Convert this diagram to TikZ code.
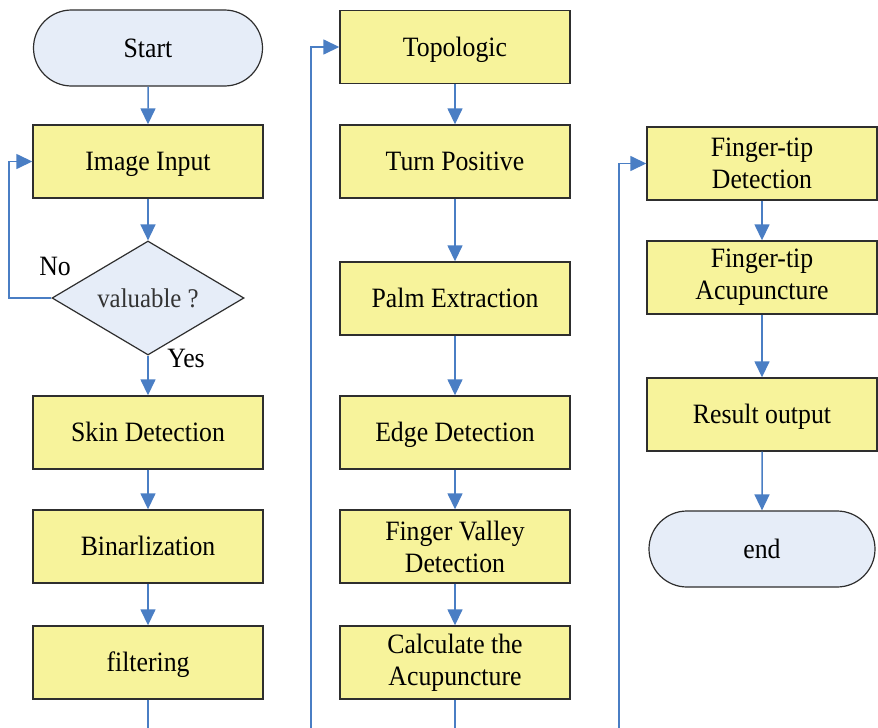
\documentclass[tikz,border=0pt]{standalone}
\usepackage{fontspec}
\setmainfont{Liberation Serif}[FakeStretch=0.92]
\usetikzlibrary{shapes.misc,shapes.geometric,arrows.meta}
\definecolor{boxfill}{HTML}{F7F39B}
\definecolor{termfill}{HTML}{E6EDF8}
\definecolor{linkblue}{HTML}{4A7EC4}
\definecolor{edgegray}{HTML}{2E2E2E}
\tikzset{
  procbox/.style={draw=edgegray, line width=1.4pt, fill=boxfill, minimum width=230pt, minimum height=73pt, inner sep=0pt, align=center, font=\fontsize{28}{32}\selectfont, text height=18.5pt, text depth=0pt},
  twoline/.style={text height={}, text depth={}},
  termbox/.style={draw=edgegray, line width=1.2pt, fill=termfill, rounded rectangle, minimum width=229pt, minimum height=76pt, inner sep=0pt, font=\fontsize{28}{32}\selectfont, text height=18.5pt, text depth=0pt},
  decbox/.style={draw=edgegray, line width=1.2pt, fill=termfill, diamond, aspect=1.68, minimum width=192pt, minimum height=114pt, inner sep=0pt, font=\fontsize{27}{30}\selectfont, text=black!80, text height=18pt, text depth=0pt},
  arr/.style={draw=linkblue, line width=1.5pt, -{Triangle[length=16pt,width=15pt]}},
  lnk/.style={draw=linkblue, line width=1.5pt},
  lbl/.style={font=\fontsize{28}{30}\selectfont, inner sep=0pt, text height=18.5pt, text depth=0pt}
}
\begin{document}
\begin{tikzpicture}[x=1pt,y=-1pt]
\useasboundingbox (0,0) rectangle (878,728);
\fill[white] (0,0) rectangle (878,728);
% column 1
\node[termbox] (start) at (148,48) {Start};
\node[procbox] (img) at (148,161.5) {Image Input};
\node[decbox] (dia) at (148,298) {valuable ?};
\node[procbox] (skin) at (148,432.5) {Skin Detection};
\node[procbox] (bin) at (148,546.5) {Binarlization};
\node[procbox] (filt) at (148,662.5) {filtering};
\node[lbl] (no) at (55,266) {No};
\node[lbl] (yes) at (186,358) {Yes};
% column 2
\node[procbox] (topo) at (455,47) {Topologic};
\node[procbox] (turn) at (455,161.5) {Turn Positive};
\node[procbox] (palm) at (455,298.5) {Palm Extraction};
\node[procbox] (edge) at (455,432.5) {Edge Detection};
\node[procbox, twoline] (valley) at (455,546.5) {Finger Valley\\Detection};
\node[procbox, twoline] (calc) at (455,662.5) {Calculate the\\Acupuncture};
% column 3
\node[procbox, twoline] (ftd) at (762,163.5) {Finger-tip\\Detection};
\node[procbox, twoline] (fta) at (762,277.5) {Finger-tip\\Acupuncture};
\node[procbox] (res) at (762,414.5) {Result output};
\node[termbox, minimum width=226pt] (end) at (762,549) {end};
% free ends
\coordinate (lp) at (9,298);
\coordinate (b1) at (148,729);
\coordinate (b2) at (311,729);
\coordinate (b3) at (455,729);
\coordinate (b4) at (619,729);
% connectors
\draw[arr] (start) -- (img);
\draw[arr] (img) -- (dia);
\draw[arr] (dia.west) -- (lp) |- (img.west);
\draw[arr] (dia.south) -- (skin);
\draw[arr] (skin) -- (bin);
\draw[arr] (bin) -- (filt);
\draw[lnk] (filt.south) -- (b1);
\draw[arr] (b2) |- (topo.west);
\draw[arr] (topo) -- (turn);
\draw[arr] (turn) -- (palm);
\draw[arr] (palm) -- (edge);
\draw[arr] (edge) -- (valley);
\draw[arr] (valley) -- (calc);
\draw[lnk] (calc.south) -- (b3);
\draw[arr] (b4) |- (ftd.west);
\draw[arr] (ftd) -- (fta);
\draw[arr] (fta) -- (res);
\draw[arr] (res) -- (end);
\end{tikzpicture}
\end{document}
